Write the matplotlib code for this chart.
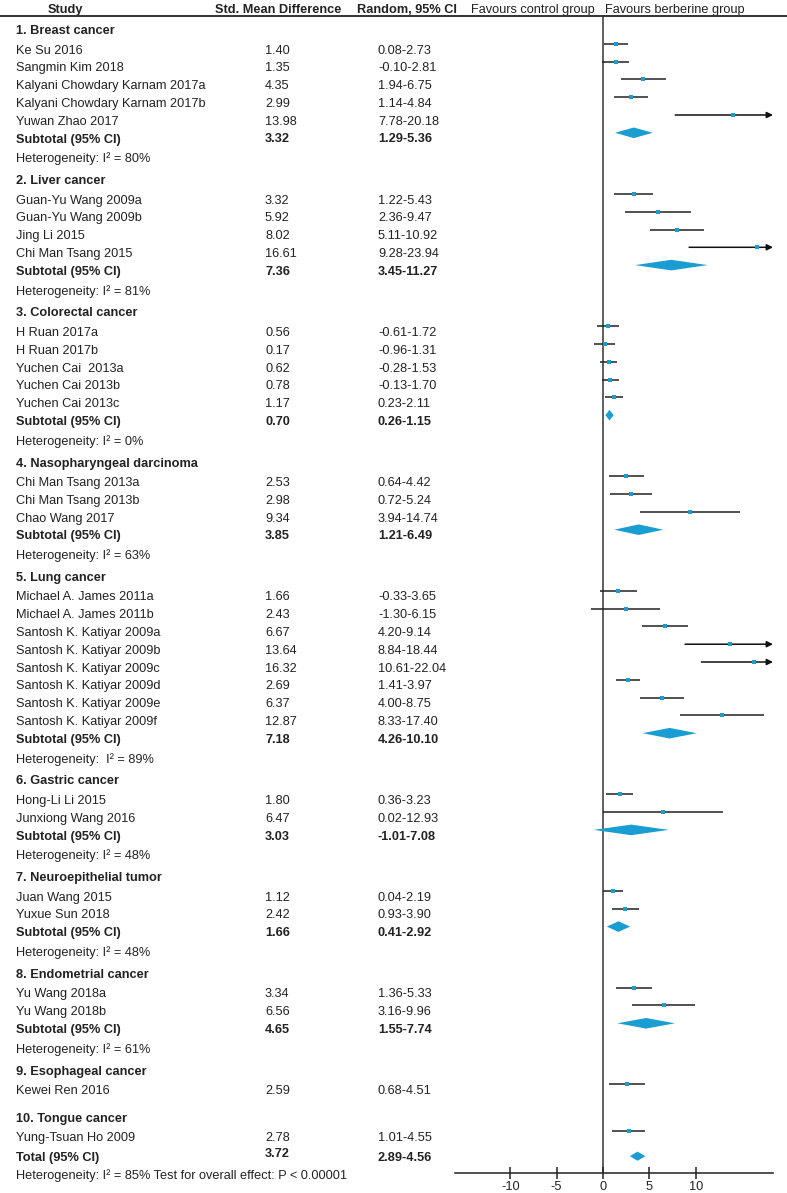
import matplotlib
matplotlib.use("Agg")
import matplotlib.pyplot as plt
from matplotlib.transforms import blended_transform_factory
from matplotlib.patches import Polygon
from matplotlib.lines import Line2D

plt.rcParams["font.family"] = ["Liberation Sans", "DejaVu Sans"]
plt.rcParams["axes.unicode_minus"] = False

# ------------------------------------------------------------
# Data
# ------------------------------------------------------------
groups = [
    "1. Breast cancer", "2. Liver cancer", "3. Colorectal cancer",
    "4. Nasopharyngeal darcinoma", "5. Lung cancer", "6. Gastric cancer",
    "7. Neuroepithelial tumor", "8. Endometrial cancer",
    "9. Esophageal cancer", "10. Tongue cancer",
]

study_names = [
    ["Ke Su 2016", "Sangmin Kim 2018", "Kalyani Chowdary Karnam 2017a",
     "Kalyani Chowdary Karnam 2017b", "Yuwan Zhao 2017"],
    ["Guan-Yu Wang 2009a", "Guan-Yu Wang 2009b", "Jing Li 2015",
     "Chi Man Tsang 2015"],
    ["H Ruan 2017a", "H Ruan 2017b", "Yuchen Cai  2013a", "Yuchen Cai 2013b",
     "Yuchen Cai 2013c"],
    ["Chi Man Tsang 2013a", "Chi Man Tsang 2013b", "Chao Wang 2017"],
    ["Michael A. James 2011a", "Michael A. James 2011b",
     "Santosh K. Katiyar 2009a", "Santosh K. Katiyar 2009b",
     "Santosh K. Katiyar 2009c", "Santosh K. Katiyar 2009d",
     "Santosh K. Katiyar 2009e", "Santosh K. Katiyar 2009f"],
    ["Hong-Li Li 2015", "Junxiong Wang 2016"],
    ["Juan Wang 2015", "Yuxue Sun 2018"],
    ["Yu Wang 2018a", "Yu Wang 2018b"],
    ["Kewei Ren 2016"],
    ["Yung-Tsuan Ho 2009"],
]
study_smd = [
    [1.40, 1.35, 4.35, 2.99, 13.98],
    [3.32, 5.92, 8.02, 16.61],
    [0.56, 0.17, 0.62, 0.78, 1.17],
    [2.53, 2.98, 9.34],
    [1.66, 2.43, 6.67, 13.64, 16.32, 2.69, 6.37, 12.87],
    [1.80, 6.47],
    [1.12, 2.42],
    [3.34, 6.56],
    [2.59],
    [2.78],
]
study_lo = [
    [0.08, -0.10, 1.94, 1.14, 7.78],
    [1.22, 2.36, 5.11, 9.28],
    [-0.61, -0.96, -0.28, -0.13, 0.23],
    [0.64, 0.72, 3.94],
    [-0.33, -1.30, 4.20, 8.84, 10.61, 1.41, 4.00, 8.33],
    [0.36, 0.02],
    [0.04, 0.93],
    [1.36, 3.16],
    [0.68],
    [1.01],
]
study_hi = [
    [2.73, 2.81, 6.75, 4.84, 20.18],
    [5.43, 9.47, 10.92, 23.94],
    [1.72, 1.31, 1.53, 1.70, 2.11],
    [4.42, 5.24, 14.74],
    [3.65, 6.15, 9.14, 18.44, 22.04, 3.97, 8.75, 17.40],
    [3.23, 12.93],
    [2.19, 3.90],
    [5.33, 9.96],
    [4.51],
    [4.55],
]
sub_smd = [3.32, 7.36, 0.70, 3.85, 7.18, 3.03, 1.66, 4.65, None, None]
sub_lo = [1.29, 3.45, 0.26, 1.21, 4.26, -1.01, 0.41, 1.55, None, None]
sub_hi = [5.36, 11.27, 1.15, 6.49, 10.10, 7.08, 2.92, 7.74, None, None]
het_text = [
    "Heterogeneity: I\u00b2 = 80%", "Heterogeneity: I\u00b2 = 81%",
    "Heterogeneity: I\u00b2 = 0%", "Heterogeneity: I\u00b2 = 63%",
    "Heterogeneity:  I\u00b2 = 89%", "Heterogeneity: I\u00b2 = 48%",
    "Heterogeneity: I\u00b2 = 48%", "Heterogeneity: I\u00b2 = 61%",
    None, None,
]
total_smd, total_lo, total_hi = 3.72, 2.89, 4.56
total_het = "Heterogeneity: I\u00b2 = 85% Test for overall effect: P < 0.00001"
x_ticks = [-10, -5, 0, 5, 10]

# ------------------------------------------------------------
# Layout (pixels, figure is 787 x 1193)
# ------------------------------------------------------------
W, H = 787, 1193
TXT = "#222222"
BLUE = "#1a9dd3"
FS = 9.2

fig = plt.figure(figsize=(W / 100, H / 100), dpi=100, facecolor="white")

L, R, T, B = 455, 773, 16, 1173
ZERO_PX, PX_PER_UNIT = 603, 9.28
ax = fig.add_axes([L / W, (H - B) / H, (R - L) / W, (B - T) / H])
ax.set_xlim((L - ZERO_PX) / PX_PER_UNIT, (R - ZERO_PX) / PX_PER_UNIT)
ax.set_ylim(B, T)  # y in pixels from the top
ax.patch.set_visible(False)
for s in ["top", "left", "right"]:
    ax.spines[s].set_visible(False)
ax.spines["bottom"].set_color("#222222")
ax.spines["bottom"].set_linewidth(1.1)
ax.set_yticks([])
ax.set_xticks(x_ticks)
ax.tick_params(axis="x", direction="inout", length=8.5, width=1.1,
               colors="#222222", labelsize=FS, pad=1.5)
ax.axvline(0, color="#444444", lw=1.2, zorder=1)

xmax = ax.get_xlim()[1]
tr = blended_transform_factory(fig.transFigure, ax.transData)

X_NAME, X_SMD, X_CI = 16 / W, 265 / W, 378 / W
MARK_OFF = 6.7
DIA_H = 5.3


def row_text(y, name, smd=None, lo=None, hi=None, bold=False):
    w = "bold" if bold else "normal"
    ax.text(X_NAME, y, name, transform=tr, fontsize=FS, color=TXT,
            fontweight=w, va="center", ha="left")
    if smd is not None:
        ax.text(X_SMD, y, f"{smd:.2f}", transform=tr, fontsize=FS, color=TXT,
                fontweight=w, va="center", ha="left")
        ax.text(X_CI, y, f"{lo:.2f}-{hi:.2f}", transform=tr, fontsize=FS,
                color=TXT, fontweight=w, va="center", ha="left")


def study_mark(y, smd, lo, hi):
    if hi > xmax:
        ax.annotate("", xy=(xmax, y), xytext=(lo, y), annotation_clip=False,
                    arrowprops=dict(arrowstyle="-|>", color="#111111", lw=1.1,
                                    mutation_scale=9, shrinkA=0, shrinkB=0))
    else:
        ax.plot([lo, hi], [y, y], color="#222222", lw=1.1, zorder=2,
                solid_capstyle="butt")
    ax.plot(smd, y, "s", color=BLUE, ms=3.0, mew=0, zorder=3)


def diamond(y, smd, lo, hi, h=DIA_H):
    ax.add_patch(Polygon([(lo, y), (smd, y - h), (hi, y), (smd, y + h)],
                         closed=True, facecolor=BLUE, edgecolor="none",
                         zorder=3))


# header
hy = 10
for xc, lab, w in [(65, "Study", "bold"), (278, "Std. Mean Difference", "bold"),
                   (407, "Random, 95% CI", "bold"),
                   (533, "Favours control group", "normal"),
                   (675, "Favours berberine group", "normal")]:
    ax.text(xc / W, hy, lab, transform=tr, fontsize=FS, color=TXT,
            fontweight=w, ha="center", va="center")
fig.add_artist(Line2D([0, 1], [1 - 15.5 / H] * 2, transform=fig.transFigure,
                      color="#333333", lw=1.4))

# rows
STEP = 17.8
y = 31
for g, head in enumerate(groups):
    row_text(y, head, bold=True)
    y += 19.5
    for name, smd, lo, hi in zip(study_names[g], study_smd[g], study_lo[g],
                                 study_hi[g]):
        row_text(y, name, smd, lo, hi)
        study_mark(y - MARK_OFF, smd, lo, hi)
        y += STEP
    if sub_smd[g] is not None:
        row_text(y, "Subtotal (95% CI)", sub_smd[g], sub_lo[g], sub_hi[g],
                 bold=True)
        diamond(y - MARK_OFF, sub_smd[g], sub_lo[g], sub_hi[g])
        y += 19.4
        row_text(y, het_text[g])
        y += 22.2
    elif g < len(groups) - 1:
        y += 27.5 - STEP

# total
y += 19.6 - STEP
ax.text(X_NAME, y, "Total (95% CI)", transform=tr, fontsize=FS, color=TXT,
        fontweight="bold", va="center")
ax.text(X_SMD, y - 4, f"{total_smd:.2f}", transform=tr, fontsize=FS,
        color=TXT, fontweight="bold", va="center")
ax.text(X_CI, y, f"{total_lo:.2f}-{total_hi:.2f}", transform=tr, fontsize=FS,
        color=TXT, fontweight="bold", va="center")
diamond(y - 1.5, total_smd, total_lo, total_hi, h=4.6)
y += 17.5
ax.text(X_NAME, y, total_het, transform=tr, fontsize=FS, color=TXT,
        va="center")

fig.savefig("out.png", dpi=100, facecolor="white")
